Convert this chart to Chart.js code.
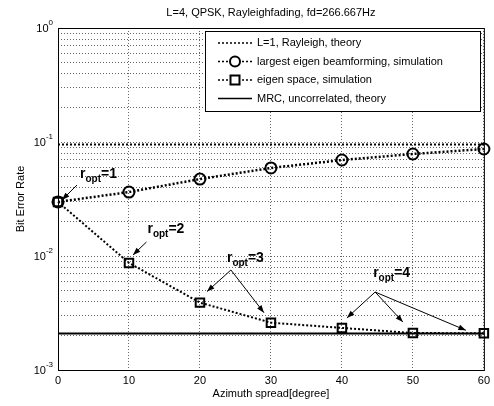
<!DOCTYPE html>
<html>
<head>
<meta charset="utf-8">
<script src="https://cdn.jsdelivr.net/npm/chart.js@4.4.0/dist/chart.umd.min.js"></script>
<style>
  body { margin: 0; background: #fff; }
  #wrap { width: 494px; height: 406px; }
</style>
</head>
<body>
<div id="wrap"><canvas id="berChart" width="494" height="406"></canvas></div>
<script>
// azimuth spread [degree]
const spread = [0, 10, 20, 30, 40, 50, 60];
// BER curves
const rayleighL1 = [0.095, 0.095, 0.095, 0.095, 0.095, 0.095, 0.095];
const largestEigen = [0.0298, 0.0364, 0.0473, 0.0592, 0.0695, 0.0785, 0.0868];
const eigenSpace = [0.0298, 0.0087, 0.0039, 0.0026, 0.00234, 0.00211, 0.0021];
const mrcTheory = [0.00209, 0.00209, 0.00209, 0.00209, 0.00209, 0.00209, 0.00209];

const xTicks = [0, 10, 20, 30, 40, 50, 60];
const decadeExps = [-3, -2, -1, 0];
const minorSteps = [1, 2, 3, 4, 5, 6, 7, 8, 9];

const legendLabels = [
    'L=1, Rayleigh, theory',
    'largest eigen beamforming, simulation',
    'eigen space, simulation',
    'MRC, uncorrelated, theory'
];

// r_opt callouts: label anchored in data units, arrows point at eigen space points
const callouts = [
    { text: '=1', at: [3.1, 0.0483], tail: [-3, 7], tips: [[0, 4, -2]] },
    { text: '=2', at: [12.6, 0.0159], tail: [-1, 9], tips: [[1, 4, -8]] },
    { text: '=3', at: [23.8, 0.00886], tail: [4, 8], tips: [[2, 7, -11], [3, -7, -10]] },
    { text: '=4', at: [44.4, 0.00654], tail: [2, 15], tips: [[4, 5, -10], [5, -10, -11], [6, -18, -3]] }
];

function yGridValues() {
    const vals = [];
    decadeExps.forEach(e => {
        if (e === 0) { vals.push(1); return; }
        minorSteps.forEach(m => vals.push(+(m * Math.pow(10, e)).toPrecision(3)));
    });
    return vals;
}

function toPoints(ys) {
    return spread.map((x, i) => ({ x: x, y: ys[i] }));
}

function drawArrow(ctx, x1, y1, x2, y2) {
    const ang = Math.atan2(y2 - y1, x2 - x1);
    ctx.beginPath();
    ctx.moveTo(x1, y1);
    ctx.lineTo(x2, y2);
    ctx.stroke();
    ctx.beginPath();
    ctx.moveTo(x2, y2);
    ctx.lineTo(x2 - 8 * Math.cos(ang - 0.35), y2 - 8 * Math.sin(ang - 0.35));
    ctx.lineTo(x2 - 8 * Math.cos(ang + 0.35), y2 - 8 * Math.sin(ang + 0.35));
    ctx.closePath();
    ctx.fill();
}

const matlabDecor = {
    id: 'matlabDecor',
    afterDraw(chart) {
        const ctx = chart.ctx;
        const area = chart.chartArea;
        const xs = chart.scales.x;
        const ys = chart.scales.y;
        ctx.save();
        ctx.fillStyle = '#000';
        ctx.strokeStyle = '#000';

        // axes box
        ctx.lineWidth = 1;
        ctx.strokeRect(area.left + 0.5, area.top + 0.5, area.right - area.left, area.bottom - area.top);

        // title
        ctx.font = '11px Arial, "Liberation Sans"';
        ctx.textAlign = 'center';
        ctx.textBaseline = 'alphabetic';
        ctx.fillText('L=4, QPSK, Rayleighfading, fd=266.667Hz', (area.left + area.right) / 2, 16);

        // y decade labels
        decadeExps.forEach(e => {
            const py = ys.getPixelForValue(Math.pow(10, e));
            ctx.textAlign = 'right';
            const sup = String(e);
            ctx.font = '8px Arial, "Liberation Sans"';
            const sw = ctx.measureText(sup).width;
            ctx.fillText(sup, area.left - 5, py - 3);
            ctx.font = '11px Arial, "Liberation Sans"';
            ctx.fillText('10', area.left - 5 - sw, py + 4);
        });

        // axis titles
        ctx.font = '11px Arial, "Liberation Sans"';
        ctx.textAlign = 'center';
        ctx.fillText('Azimuth spread[degree]', (area.left + area.right) / 2, 397);
        ctx.save();
        ctx.translate(24, (area.top + area.bottom) / 2);
        ctx.rotate(-Math.PI / 2);
        ctx.fillText('Bit Error Rate', 0, 0);
        ctx.restore();

        // legend
        const lx = 205, ly = 31, lw = 275, lh = 80;
        ctx.fillStyle = '#fff';
        ctx.fillRect(lx, ly, lw, lh);
        ctx.strokeStyle = '#000';
        ctx.lineWidth = 1;
        ctx.strokeRect(lx + 0.5, ly + 0.5, lw, lh);
        ctx.fillStyle = '#000';
        ctx.textAlign = 'left';
        ctx.textBaseline = 'middle';
        const sets = chart.data.datasets;
        legendLabels.forEach((lab, i) => {
            const ry = ly + 12 + i * 18.5;
            const ds = sets[i];
            ctx.lineWidth = 1.5;
            ctx.setLineDash(ds.borderDash || []);
            ctx.beginPath();
            ctx.moveTo(218, ry);
            ctx.lineTo(252, ry);
            ctx.stroke();
            ctx.setLineDash([]);
            if (ds.pointRadius > 0) {
                ctx.fillStyle = '#fff';
                ctx.lineWidth = 2;
                ctx.beginPath();
                if (ds.pointStyle === 'rect') {
                    ctx.rect(235 - 4.5, ry - 4.5, 9, 9);
                } else {
                    ctx.arc(235, ry, 5, 0, Math.PI * 2);
                }
                ctx.fill();
                ctx.stroke();
                ctx.fillStyle = '#000';
            }
            ctx.font = '11px Arial, "Liberation Sans"';
            ctx.fillText(lab, 257, ry);
        });

        // r_opt callouts
        ctx.textBaseline = 'alphabetic';
        ctx.lineWidth = 1;
        callouts.forEach(c => {
            const px = xs.getPixelForValue(c.at[0]);
            const py = ys.getPixelForValue(c.at[1]);
            ctx.font = 'bold 14px Arial, "Liberation Sans"';
            ctx.fillText('r', px, py);
            let w = ctx.measureText('r').width;
            ctx.font = 'bold 10px Arial, "Liberation Sans"';
            ctx.fillText('opt', px + w, py + 4);
            w += ctx.measureText('opt').width;
            ctx.font = 'bold 14px Arial, "Liberation Sans"';
            ctx.fillText(c.text, px + w, py);
            const tx = px + c.tail[0], ty = py + c.tail[1];
            c.tips.forEach(t => {
                const dx = xs.getPixelForValue(spread[t[0]]) + t[1];
                const dy = ys.getPixelForValue(eigenSpace[t[0]]) + t[2];
                drawArrow(ctx, tx, ty, dx, dy);
            });
        });
        ctx.restore();
    }
};

const ctx1 = document.getElementById('berChart').getContext('2d');

const gridStyle = {
    color: 'rgba(0,0,0,0.6)',
    drawTicks: false,
    lineWidth: 1
};

const config = {
    type: 'line',
    data: {
        datasets: [
            {
                label: legendLabels[0],
                data: toPoints(rayleighL1),
                borderColor: '#000',
                borderWidth: 2,
                borderDash: [2, 2],
                pointRadius: 0
            },
            {
                label: legendLabels[1],
                data: toPoints(largestEigen),
                borderColor: '#000',
                borderWidth: 2.5,
                borderDash: [2, 2],
                pointStyle: 'circle',
                pointRadius: 5.5,
                pointBorderWidth: 2,
                pointBackgroundColor: 'rgba(255,255,255,0)',
                pointBorderColor: '#000'
            },
            {
                label: legendLabels[2],
                data: toPoints(eigenSpace),
                borderColor: '#000',
                borderWidth: 2,
                borderDash: [2, 2],
                pointStyle: 'rect',
                pointRadius: 6,
                pointBorderWidth: 2,
                pointBackgroundColor: 'rgba(255,255,255,0)',
                pointBorderColor: '#000'
            },
            {
                label: legendLabels[3],
                data: toPoints(mrcTheory),
                borderColor: '#000',
                borderWidth: 2,
                pointRadius: 0
            }
        ]
    },
    options: {
        responsive: false,
        animation: false,
        clip: false,
        layout: {
            padding: { top: 28, right: 8, left: 0, bottom: 0 }
        },
        plugins: {
            legend: { display: false },
            tooltip: { enabled: false },
            title: { display: false }
        },
        scales: {
            x: {
                type: 'linear',
                min: 0,
                max: 60,
                afterFit: scale => { scale.height = 36; },
                afterBuildTicks: scale => { scale.ticks = xTicks.map(v => ({ value: v })); },
                grid: gridStyle,
                border: { display: false, dash: [1, 2] },
                ticks: {
                    color: '#000',
                    padding: 4,
                    font: { family: 'Arial, "Liberation Sans"', size: 11 }
                }
            },
            y: {
                type: 'logarithmic',
                min: 0.001,
                max: 1,
                afterFit: scale => { scale.width = 58; },
                afterBuildTicks: scale => { scale.ticks = yGridValues().map(v => ({ value: v })); },
                grid: gridStyle,
                border: { display: false, dash: [1, 2] },
                ticks: {
                    display: false,
                    autoSkip: false
                }
            }
        }
    },
    plugins: [matlabDecor]
};

const berChart = new Chart(ctx1, config);
</script>
</body>
</html>
